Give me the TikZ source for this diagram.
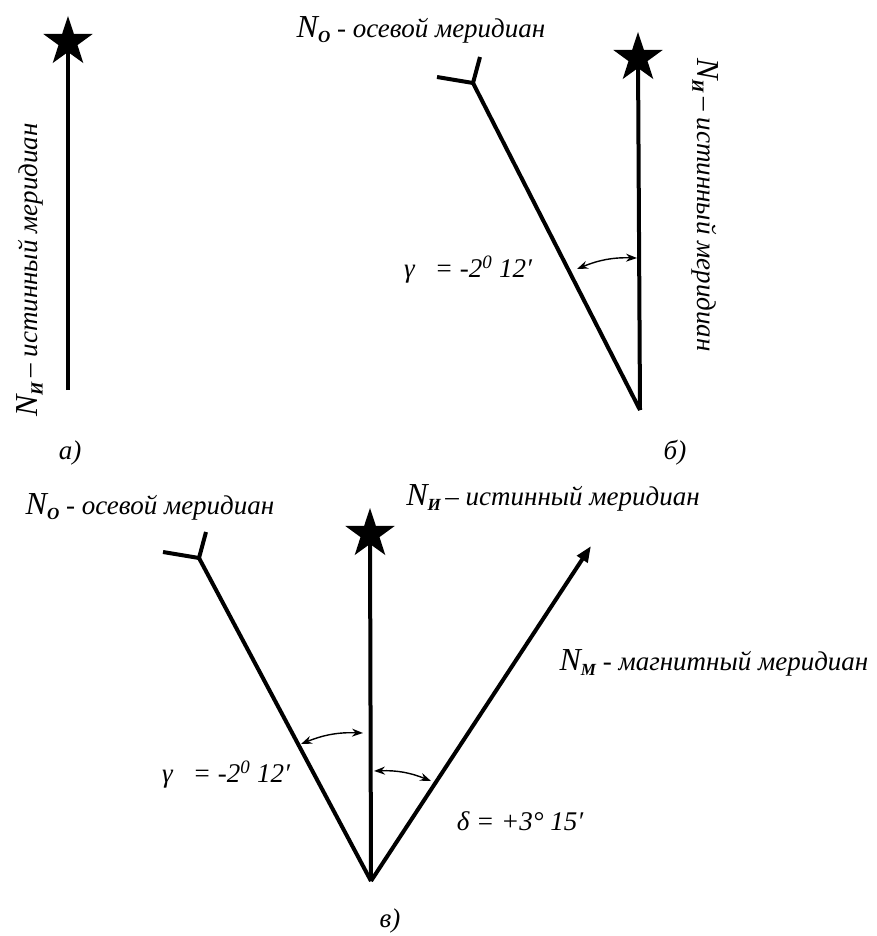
\documentclass[tikz,border=0pt]{standalone}
\usepackage{fontspec}
\setmainfont{Liberation Serif}
\usetikzlibrary{shapes.geometric,arrows.meta}
\newcommand\bigN[1]{{\fontsize{32}{32}\selectfont\itshape N}\raisebox{-5pt}{\fontsize{17}{17}\selectfont\bfseries\itshape #1}}
\tikzset{
  meridian/.style={line width=4pt},
  ystick/.style={line width=4pt,line cap=butt},
  starmark/.style={star,star points=5,star point ratio=2.6,fill=black,draw=none,minimum size=52pt,inner sep=0pt},
  lbl/.style={font=\fontsize{27}{30}\selectfont\itshape,inner sep=0pt,anchor=center},
  anglearc/.style={line width=1.4pt,{Stealth[length=11pt,width=8pt]}-{Stealth[length=11pt,width=8pt]}},
}
\begin{document}
\begin{tikzpicture}[x=1pt,y=-1pt]
\useasboundingbox (0,0) rectangle (876,936);
% ---- a)
\node[starmark] (sa) at (68,42) {};
\coordinate (ba) at (68,390);
\draw[meridian] (ba) -- (sa.center);
\node[lbl,rotate=90] (la) at (30,270) {\bigN{И}\,– истинный меридиан};
\node[lbl] (ca) at (70,453) {а)};
% ---- б)
\node[starmark] (sb) at (638,58) {};
\coordinate (bb) at (640,410);
\coordinate (yb) at (473,83);
\draw[meridian] (bb) -- (sb.center);
\draw[meridian] (bb) -- (yb);
\coordinate (yb1) at (480,57);
\coordinate (yb2) at (437,77);
\draw[ystick] (yb) -- (yb1);
\draw[ystick] (yb) -- (yb2);
\node[lbl] (lob) at (421,30) {\bigN{O} - осевой меридиан};
\node[lbl,rotate=-90] (lib) at (705,205) {\bigN{И}\,– истинный меридиан};
\coordinate (gb1) at (577,269);
\coordinate (gb2) at (637,258);
\draw[anglearc] (gb1) to[bend left=12] (gb2);
\node[lbl] (gbl) at (468,270) {γ\ \ \ = -2\textsuperscript{0} 12′};
\node[lbl] (cb) at (675,453) {б)};
% ---- в)
\coordinate (av) at (371,881);
\node[starmark] (sv) at (370,534) {};
\coordinate (yv) at (199,558);
\coordinate (yv1) at (206,532);
\coordinate (yv2) at (163,552);
\coordinate (mv) at (591,546);
\draw[meridian] (av) -- (sv.center);
\draw[meridian] (av) -- (yv);
\draw[ystick] (yv) -- (yv1);
\draw[ystick] (yv) -- (yv2);
\draw[meridian,-{Triangle[length=16pt,width=12pt]}] (av) -- (mv);
\node[lbl] (lov) at (150,507) {\bigN{O} - осевой меридиан};
\node[lbl] (liv) at (553,498) {\bigN{И}\,– истинный меридиан};
\node[lbl] (lmv) at (714,663) {\bigN{M} - магнитный меридиан};
\coordinate (gv1) at (301,744);
\coordinate (gv2) at (363,733);
\draw[anglearc] (gv1) to[bend left=12] (gv2);
\coordinate (dv1) at (431,781);
\coordinate (dv2) at (374,771);
\draw[anglearc] (dv1) to[bend right=12] (dv2);
\node[lbl] (gvl) at (226,775) {γ\ \ \ = -2\textsuperscript{0} 12′};
\node[lbl] (dvl) at (520,821) {δ\ = +3° 15′};
\node[lbl] (cv) at (390,921) {в)};
\end{tikzpicture}
\end{document}
